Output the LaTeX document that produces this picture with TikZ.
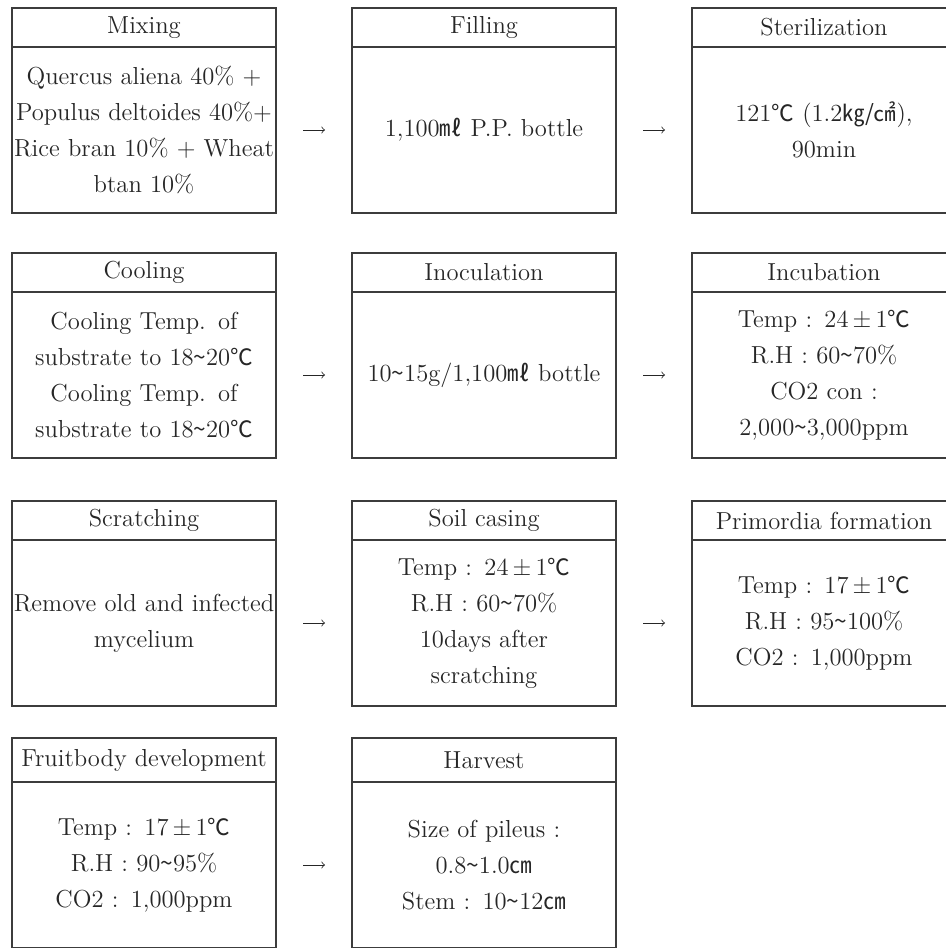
\documentclass[tikz,border=0pt]{standalone}
\usepackage{fontspec}
\usetikzlibrary{positioning}
\newfontfamily\cjk{Noto Sans CJK KR}[Scale=0.92]
\definecolor{linegray}{HTML}{3C3C3C}
\definecolor{textgray}{HTML}{262626}
\newcommand\wave{{\cjk\char`\~}}
\newcommand\degc{{\cjk ℃}}
\newcommand\mlunit{{\cjk ㎖}}
\newcommand\cmunit{{\cjk ㎝}}
\tikzset{
  headbox/.style={draw=linegray, line width=0.7pt, text=textgray, minimum width=132pt, minimum height=19.5pt, inner sep=0pt, outer sep=0pt, font=\fontsize{12.3}{18}\selectfont},
  bodybox/.style={draw=linegray, line width=0.7pt, text=textgray, minimum width=132pt, minimum height=83pt, text width=132pt, inner sep=0pt, outer sep=0pt, align=center, font=\fontsize{12.3}{18}\selectfont},
  flow/.style={->, line width=0.4pt, textgray, shorten >=13.5pt, shorten <=13.5pt}
}
\begin{document}
\begin{tikzpicture}[x=0.5pt, y=-0.5pt]
      \useasboundingbox (0,0) rectangle (946,948);
      \clip (0,0) rectangle (946,948);

      \node[headbox, anchor=north west] (mixh) at (12,8) {Mixing};
      \node[bodybox, below=0pt of mixh] (mixb) {Quercus aliena 40\% +\\ Populus deltoides 40\%+\\ Rice bran 10\% + Wheat\\ btan 10\%};
      \node[headbox, right=38pt of mixh] (fillh) {Filling};
      \node[bodybox, below=0pt of fillh] (fillb) {1,100\mlunit\ P.P. bottle};
      \node[headbox, right=38pt of fillh] (sterh) {Sterilization};
      \node[bodybox, below=0pt of sterh] (sterb) {121\degc\ (1.2{\cjk ㎏/㎠}),\\ 90min};

      \draw[flow] (mixb)--(fillb);
      \draw[flow] (fillb)--(sterb);

      \node[headbox, below=20pt of mixb] (coolh) {Cooling};
      \node[bodybox, below=0pt of coolh] (coolb) {Cooling Temp. of\\ substrate to 18\wave20\degc\\ Cooling Temp. of\\ substrate to 18\wave20\degc};
      \node[headbox, right=38pt of coolh] (inoch) {Inoculation};
      \node[bodybox, below=0pt of inoch] (inocb) {10\wave15g/1,100\mlunit\ bottle};
      \node[headbox, right=38pt of inoch] (incuh) {Incubation};
      \node[bodybox, below=0pt of incuh] (incub) {Temp : 24\,±\,1\degc\\ R.H : 60\wave70\%\\ CO2 con :\\ 2,000\wave3,000ppm};

      \draw[flow] (coolb)--(inocb);
      \draw[flow] (inocb)--(incub);

      \node[headbox, below=21.5pt of coolb] (scrah) {Scratching};
      \node[bodybox, below=0pt of scrah] (scrab) {Remove old and infected\\ mycelium};
      \node[headbox, right=38pt of scrah] (soilh) {Soil casing};
      \node[bodybox, below=0pt of soilh] (soilb) {Temp : 24\,±\,1\degc\\ R.H : 60\wave70\%\\ 10days after\\ scratching};
      \node[headbox, right=38pt of soilh] (primh) {Primordia formation};
      \node[bodybox, below=0pt of primh] (primb) {Temp : 17\,±\,1\degc\\ R.H : 95\wave100\%\\ CO2 : 1,000ppm};

      \draw[flow] (scrab)--(soilb);
      \draw[flow] (soilb)--(primb);

      \node[headbox, minimum height=22pt, below=16pt of scrab] (fruih) {Fruitbody development};
      \node[bodybox, below=0pt of fruih] (fruib) {Temp : 17\,±\,1\degc\\ R.H : 90\wave95\%\\ CO2 : 1,000ppm};
      \node[headbox, minimum height=22pt, right=38pt of fruih] (harvh) {Harvest};
      \node[bodybox, below=0pt of harvh] (harvb) {Size of pileus :\\ 0.8\wave1.0\cmunit\\ Stem : 10\wave12\cmunit};

      \draw[flow] (fruib)--(harvb);
    \end{tikzpicture}
\end{document}
